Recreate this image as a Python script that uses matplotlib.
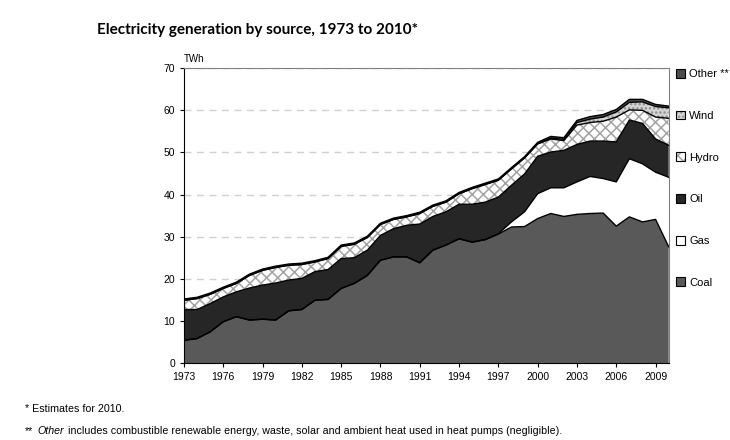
import numpy as np
import matplotlib.pyplot as plt
from matplotlib.patches import Patch

years = list(range(1973, 2011))

# TWh by source
coal = [5.4, 5.8, 7.4, 9.8, 11.0, 10.2, 10.4, 10.2, 12.4, 12.7,
        14.9, 15.1, 17.7, 18.9, 20.8, 24.4, 25.2, 25.2, 23.8, 26.8,
        28.0, 29.5, 28.7, 29.3, 30.6, 32.3, 32.4, 34.3, 35.5, 34.8,
        35.3, 35.5, 35.6, 32.5, 34.7, 33.5, 34.1, 27.6]
gas = [0.0, 0.0, 0.0, 0.0, 0.0, 0.0, 0.0, 0.0, 0.0, 0.0,
       0.0, 0.0, 0.0, 0.0, 0.0, 0.0, 0.0, 0.0, 0.0, 0.0,
       0.0, 0.0, 0.0, 0.0, 0.1, 1.2, 3.5, 5.9, 6.1, 6.8,
       7.7, 8.8, 8.2, 10.5, 13.8, 13.8, 11.2, 16.5]
oil = [7.3, 6.9, 6.7, 5.9, 5.9, 7.6, 8.1, 8.8, 7.3, 7.4,
       6.8, 7.1, 7.1, 6.1, 6.0, 5.9, 6.7, 7.5, 9.2, 8.0,
       7.9, 8.2, 9.0, 8.9, 8.7, 8.7, 9.0, 8.9, 8.5, 8.9,
       8.9, 8.4, 8.9, 9.5, 9.2, 9.6, 7.9, 7.6]
hydro = [2.2, 2.6, 2.2, 2.0, 2.0, 3.0, 3.5, 3.7, 3.5, 3.3,
         2.3, 2.6, 2.9, 3.2, 3.0, 2.6, 2.2, 2.0, 2.5, 2.4,
         2.3, 2.5, 3.7, 4.2, 4.0, 3.9, 3.8, 2.9, 3.1, 2.3,
         4.6, 4.4, 4.7, 5.9, 2.4, 3.1, 5.2, 6.4]
wind = [0.0, 0.0, 0.0, 0.0, 0.0, 0.0, 0.0, 0.0, 0.0, 0.0,
        0.0, 0.0, 0.0, 0.0, 0.0, 0.0, 0.0, 0.0, 0.0, 0.0,
        0.0, 0.0, 0.0, 0.0, 0.0, 0.0, 0.0, 0.1, 0.2, 0.3,
        0.6, 0.8, 1.0, 1.2, 1.8, 2.0, 2.5, 2.5]
other = [0.3, 0.3, 0.3, 0.3, 0.3, 0.3, 0.3, 0.3, 0.3, 0.3,
         0.3, 0.3, 0.3, 0.3, 0.3, 0.3, 0.3, 0.3, 0.3, 0.3,
         0.3, 0.3, 0.3, 0.3, 0.3, 0.3, 0.3, 0.3, 0.4, 0.4,
         0.5, 0.6, 0.6, 0.6, 0.7, 0.6, 0.5, 0.4]

series = [coal, gas, oil, hydro, wind, other]
labels = ["Coal", "Gas", "Oil", "Hydro", "Wind", "Other **"]
faces = ["#595959", "#ffffff", "#262626", "#ffffff", "#d4d4d4", "#4d4d4d"]
hatches = [None, None, None, "xxx", "....", None]
hatch_cols = [None, None, None, "#a3a3a3", "#8c8c8c", None]

plt.rcParams['font.family'] = ['Liberation Sans', 'DejaVu Sans']
plt.rcParams['hatch.linewidth'] = 1.1

fig = plt.figure(figsize=(7.3, 4.4), dpi=100)
ax = fig.add_axes([0.252, 0.175, 0.664, 0.670])

x = np.array(years)
base = np.zeros(len(years))
for vals, fc, h, hc in zip(series, faces, hatches, hatch_cols):
    top = base + np.array(vals)
    if h:
        ax.fill_between(x, base, top, facecolor=fc, edgecolor=hc, hatch=h,
                        linewidth=0, zorder=2)
    else:
        ax.fill_between(x, base, top, facecolor=fc, linewidth=0, zorder=2)
    ax.plot(x, top, color="black", linewidth=1.0, zorder=3)
    base = top

ax.set_xlim(1973, 2010)
ax.set_ylim(0, 70)
ax.set_xticks(range(1973, 2011, 3))
ax.set_yticks(range(0, 71, 10))
ax.tick_params(labelsize=7.5, length=3, width=0.8, colors="black")
ax.yaxis.grid(True, linestyle=(0, (5, 4)), color="#d0d0d0", linewidth=1.0, zorder=0)
ax.set_axisbelow(True)
for s in ["top", "right"]:
    ax.spines[s].set_color("#808080")
    ax.spines[s].set_linewidth(0.8)
for s in ["left", "bottom"]:
    ax.spines[s].set_linewidth(0.8)

ax.text(0.0, 1.015, "TWh", transform=ax.transAxes, fontsize=7, va="bottom", ha="left")

handles = []
for fc, h, hc in zip(faces, hatches, hatch_cols):
    if h:
        handles.append((Patch(facecolor=fc, edgecolor=hc, hatch=h, linewidth=0),
                        Patch(facecolor="none", edgecolor="black", linewidth=0.8)))
    else:
        handles.append(Patch(facecolor=fc, edgecolor="black", linewidth=0.8))

leg = ax.legend(handles[::-1], labels[::-1], loc="upper left",
                bbox_to_anchor=(1.005, 1.013), frameon=False, fontsize=8,
                handlelength=0.85, handleheight=0.85, handletextpad=0.4,
                labelspacing=2.83, borderaxespad=0)

fig.text(0.133, 0.932, "Electricity generation by source, 1973 to 2010*",
         fontsize=11, fontweight="bold", family=["Lato", "DejaVu Sans"],
         va="center", ha="left")

# footnotes
fig.text(0.034, 0.070, "* Estimates for 2010.", fontsize=7.7, va="center")
t1 = fig.text(0.034, 0.013, "**", fontsize=7.7, va="baseline")
t2 = fig.text(0, 0.013, "Other", fontsize=7.7, style="italic", va="baseline")
t3 = fig.text(0, 0.013, "includes combustible renewable energy, waste, solar and ambient heat used in heat pumps (negligible).",
              fontsize=7.7, va="baseline")
fig.canvas.draw()
r = fig.canvas.get_renderer()
gap = 4.0 / 730
e1 = t1.get_window_extent(r)
t2.set_x(e1.x1 / 730 + gap)
e2 = t2.get_window_extent(r)
t3.set_x(e2.x1 / 730 + gap)

fig.savefig("out.png", dpi=100)
plt.close(fig)
